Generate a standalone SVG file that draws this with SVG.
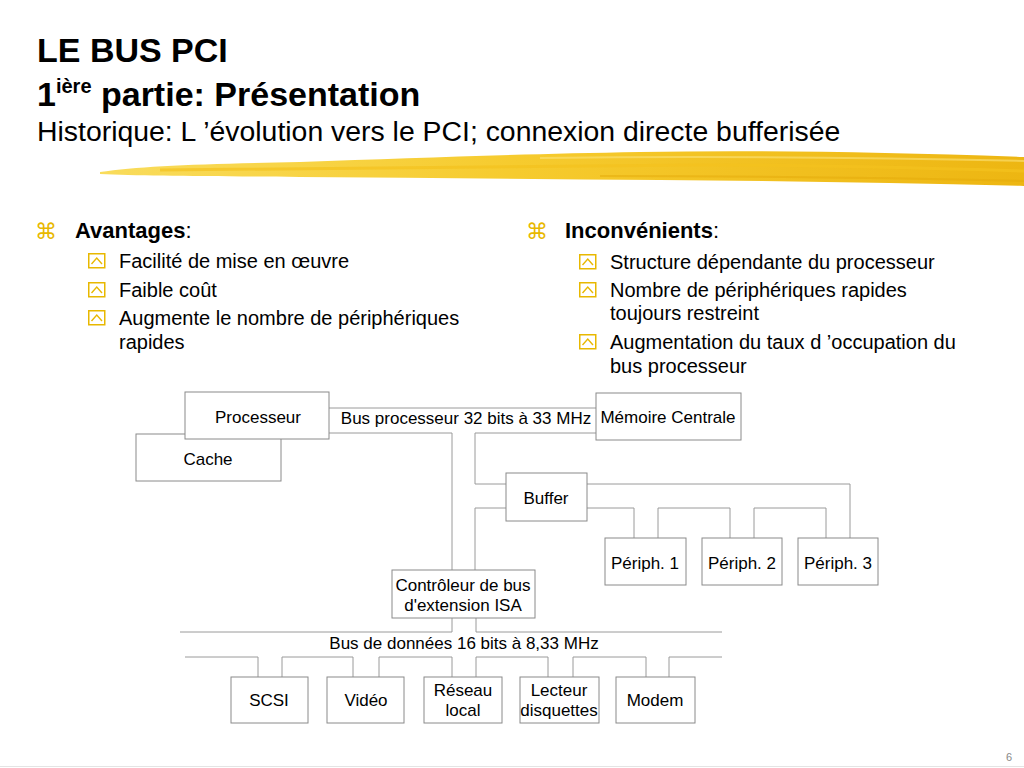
<svg xmlns="http://www.w3.org/2000/svg" width="1024" height="768" viewBox="0 0 1024 768">
<style>
text{font-family:"Liberation Sans",Arial,sans-serif;fill:#000}
.t1{font-size:34px;font-weight:bold}
.t3{font-size:28.4px}
.h{font-size:22px;font-weight:bold}
.hc{font-weight:normal}
.s{font-size:20px}
.sym{font-family:"DejaVu Sans",sans-serif;font-size:22px;fill:#E8B800}
.box rect{fill:#fff;stroke:#8a8a8a;stroke-width:1}
.box text{font-size:17px;text-anchor:middle}
.lbl{font-size:17px;text-anchor:middle}
#connectors path{fill:none;stroke:#9a9a9a;stroke-width:1}
.pg{font-size:11px;fill:#888}
</style>
<defs>
<linearGradient id="brush" x1="0" y1="0" x2="1" y2="0">
<stop offset="0" stop-color="#F9DC5C"/>
<stop offset="0.45" stop-color="#F6CB2E"/>
<stop offset="1" stop-color="#EDB612"/>
</linearGradient>
<g id="sb">
<rect x="0.75" y="0.75" width="16" height="14" fill="none" stroke="#E8B800" stroke-width="1.5"/>
<polyline points="3.5,11 8.75,5 14,11" fill="none" stroke="#E8B800" stroke-width="1.4"/>
</g>
</defs>
<rect width="1024" height="768" fill="#fff"/>

<!-- title -->
<text class="t1" x="37" y="62">LE BUS PCI</text>
<text class="t1" x="37" y="106">1<tspan font-size="20px" dy="-13">ière</tspan><tspan dy="13"> partie: Présentation</tspan></text>
<text class="t3" x="37" y="141">Historique: L ’évolution vers le PCI; connexion directe bufferisée</text>

<!-- brush stroke -->
<g id="brushstroke">
<path d="M100,172 C140,166 200,164 300,162 C420,158 520,154 640,152 C760,150 880,152 1024,157 L1024,186 C900,183 780,181 660,180 C540,179 420,178 300,177 C200,176 140,176 100,174 Z" fill="url(#brush)"/>
<path d="M160,170 C300,168 480,166 700,165 C820,165 920,168 1024,171" fill="none" stroke="#F3C21E" stroke-width="3" opacity="0.7"/>
<path d="M540,158 C700,156 850,157 1024,161" fill="none" stroke="#FBE27A" stroke-width="2" opacity="0.6"/>
<path d="M600,176 C760,176 900,178 1024,181" fill="none" stroke="#E3A90A" stroke-width="2" opacity="0.5"/>
</g>

<!-- bullets left -->
<g id="avantages">
<text class="sym" x="35" y="239">⌘</text>
<text class="h" x="75" y="238">Avantages<tspan class="hc">:</tspan></text>
<use href="#sb" x="88" y="253"/>
<text class="s" x="119" y="268">Facilité de mise en œuvre</text>
<use href="#sb" x="88" y="282"/>
<text class="s" x="119" y="297">Faible coût</text>
<use href="#sb" x="88" y="310"/>
<text class="s" x="119" y="325">Augmente le nombre de périphériques</text>
<text class="s" x="119" y="349">rapides</text>
</g>

<!-- bullets right -->
<g id="inconvenients">
<text class="sym" x="526" y="239">⌘</text>
<text class="h" x="565" y="238">Inconvénients<tspan class="hc">:</tspan></text>
<use href="#sb" x="579" y="254"/>
<text class="s" x="610" y="269">Structure dépendante du processeur</text>
<use href="#sb" x="579" y="282"/>
<text class="s" x="610" y="297">Nombre de périphériques rapides</text>
<text class="s" x="610" y="320">toujours restreint</text>
<use href="#sb" x="579" y="334"/>
<text class="s" x="610" y="349">Augmentation du taux d ’occupation du</text>
<text class="s" x="610" y="373">bus processeur</text>
</g>

<!-- connectors -->
<g id="connectors">
<path d="M329,408 H596"/>
<path d="M329,433 H452 V570"/>
<path d="M596,433 H475 V484 H506"/>
<path d="M506,508 H475 V570"/>
<path d="M587,484 H850 V538"/>
<path d="M587,508 H634 V538"/>
<path d="M658,538 V508 H730 V538"/>
<path d="M754,538 V508 H826 V538"/>
<path d="M180,632 H452 V618"/>
<path d="M722,632 H476 V618"/>
<path d="M185,657 H258 V677"/>
<path d="M282,677 V657 H353 V677"/>
<path d="M379,677 V657 H452 V677"/>
<path d="M476,677 V657 H548 V677"/>
<path d="M573,677 V657 H646 V677"/>
<path d="M669,677 V657 H722"/>
</g>
<text class="lbl" x="466" y="424">Bus processeur 32 bits à 33 MHz</text>
<text class="lbl" x="464" y="649">Bus de données 16 bits à 8,33 MHz</text>

<!-- nodes -->
<g id="cache" class="box"><rect x="136" y="434" width="145" height="47"/><text x="208" y="465">Cache</text></g>
<g id="processeur" class="box"><rect x="185" y="392" width="144" height="47"/><text x="258" y="423">Processeur</text></g>
<g id="memoire" class="box"><rect x="596" y="393" width="145" height="47"/><text x="668" y="423">Mémoire Centrale</text></g>
<g id="buffer" class="box"><rect x="506" y="473" width="81" height="48"/><text x="546" y="504">Buffer</text></g>
<g id="periph1" class="box"><rect x="605" y="538" width="81" height="47"/><text x="645" y="569">Périph. 1</text></g>
<g id="periph2" class="box"><rect x="702" y="538" width="80" height="47"/><text x="742" y="569">Périph. 2</text></g>
<g id="periph3" class="box"><rect x="798" y="538" width="80" height="47"/><text x="838" y="569">Périph. 3</text></g>
<g id="controleur" class="box"><rect x="392" y="570" width="143" height="48"/><text x="463" y="591">Contrôleur de bus</text><text x="463" y="611">d'extension ISA</text></g>
<g id="scsi" class="box"><rect x="231" y="677" width="77" height="46"/><text x="269" y="706">SCSI</text></g>
<g id="video" class="box"><rect x="327" y="677" width="77" height="46"/><text x="366" y="706">Vidéo</text></g>
<g id="reseau" class="box"><rect x="424" y="677" width="78" height="46"/><text x="463" y="696">Réseau</text><text x="463" y="716">local</text></g>
<g id="lecteur" class="box"><rect x="520" y="677" width="79" height="46"/><text x="559" y="696">Lecteur</text><text x="559" y="716">disquettes</text></g>
<g id="modem" class="box"><rect x="616" y="677" width="79" height="46"/><text x="655" y="706">Modem</text></g>

<line x1="0" y1="766.5" x2="1024" y2="766.5" stroke="#e4e4e4" stroke-width="1"/>
<text class="pg" x="1006" y="761">6</text>
</svg>
